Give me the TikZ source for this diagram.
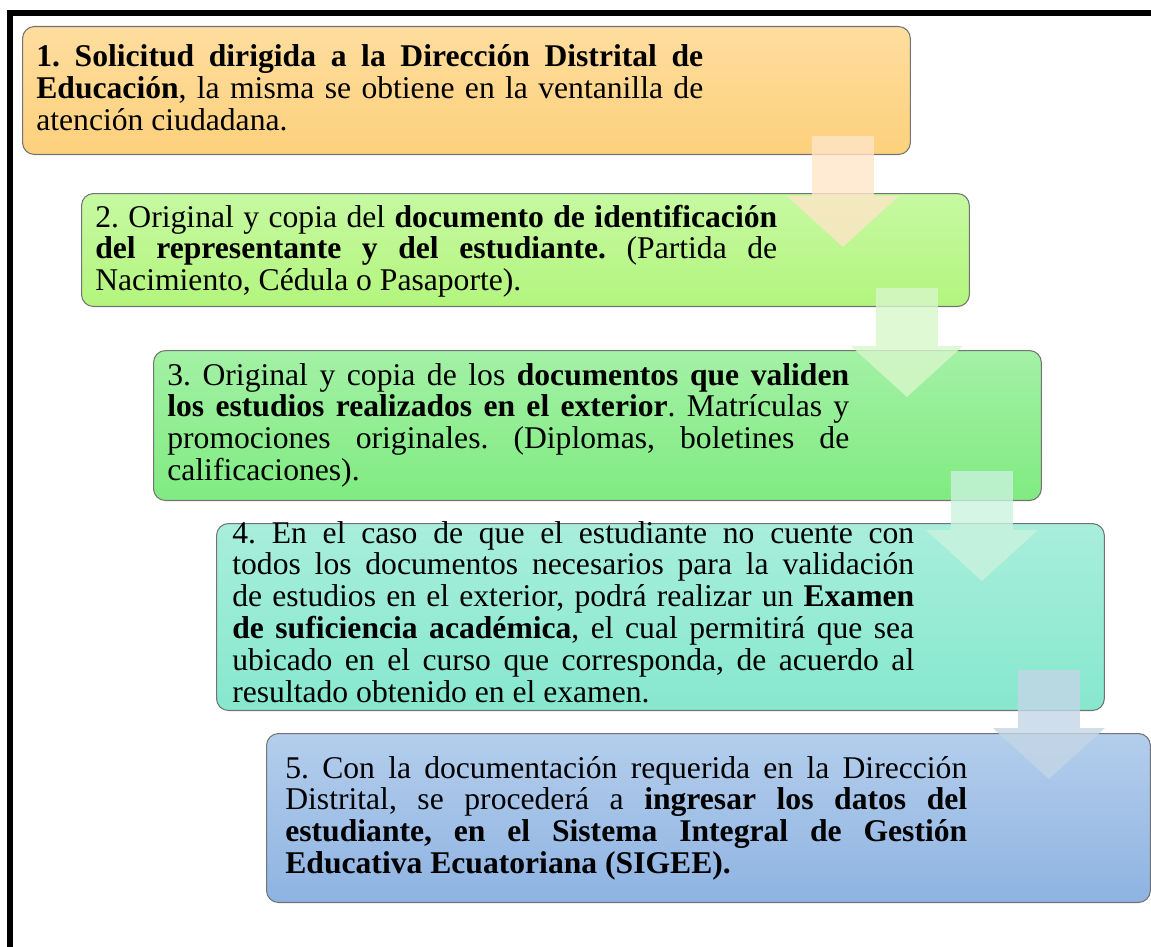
\documentclass[tikz,border=0pt]{standalone}
\usepackage{fontspec}
\setmainfont{Liberation Serif}
\usepackage{xcolor}
\usetikzlibrary{calc,positioning}
\definecolor{orgTop}{HTML}{FEDD9E}
\definecolor{orgBot}{HTML}{FDD17C}
\definecolor{limeTop}{HTML}{C6F9A2}
\definecolor{limeBot}{HTML}{B3F57D}
\definecolor{grnTop}{HTML}{A3F1A5}
\definecolor{grnBot}{HTML}{80EB81}
\definecolor{tealTop}{HTML}{A8EEDB}
\definecolor{tealBot}{HTML}{86E8CE}
\definecolor{bluTop}{HTML}{B4CEEC}
\definecolor{bluBot}{HTML}{8EB3E2}
\definecolor{arrA}{HTML}{FFE5C8}
\definecolor{arrB}{HTML}{D8F7CB}
\definecolor{arrC}{HTML}{CAF2DE}
\definecolor{arrD}{HTML}{C4D6E7}
\hyphenpenalty=10000
\exhyphenpenalty=10000
\tolerance=10000
\frenchspacing

\begin{document}
\begin{tikzpicture}[x=0.02cm, y=-0.02cm,
    stepbox/.style={draw=black!55, line width=0.6pt, rounded corners=0.24cm,
        minimum width=17.76cm, minimum height=#1, anchor=north west, inner sep=0pt},
    steptext/.style={anchor=base west, inner sep=0pt, text width=13.64cm,
        align=justify, font=\fontsize{18}{18.1}\selectfont},
    flow/.style={fill=#1, opacity=0.8}]
    \clip (0,0) rectangle (1151,946);
    % outer frame
    \draw[line width=3.1pt] (10,980) -- (10,13) -- (1180,13);

    % steps
    \node[stepbox=2.56cm, top color=orgTop, bottom color=orgBot] (b1) at (22,26) {};
    \node[stepbox=2.26cm, top color=limeTop, bottom color=limeBot] (b2) at (81,193) {};
    \node[stepbox=3.0cm, top color=grnTop, bottom color=grnBot] (b3) at (153,350) {};
    \node[stepbox=3.74cm, top color=tealTop, bottom color=tealBot] (b4) at (216,523) {};
    \node[stepbox=3.38cm, minimum width=17.68cm, top color=bluTop, bottom color=bluBot] (b5) at (266,733) {};

    % arrows between steps
    \foreach \from/\to/\dx/\dy/\dt/\col in {b1/b2/-68/-19/54/arrA, b2/b3/-63/-19/47/arrB,
        b3/b4/-60/-30/58/arrC, b4/b5/-56/-41/46/arrD}{
        \coordinate (sh) at ($(\from.south east)+(\dx,\dy)$);
        \coordinate (tp) at ($(sh |- \to.north)+(0,\dt)$);
        \fill[flow=\col] ($(sh)+(-31,0)$) -- ($(sh)+(31,0)$) -- ($(tp)+(31,-51)$)
            -- ($(tp)+(56,-51)$) -- (tp) -- ($(tp)+(-56,-51)$) -- ($(tp)+(-31,-51)$) -- cycle;
    }

    % texts
    \node[steptext, text width=13.34cm] (t1) at ($(b1.north west)+(14,41)$)
        {\textbf{1. Solicitud dirigida a la Dirección Distrital de\linebreak
        Educación}, la misma se obtiene en la ventanilla de\linebreak
        atención ciudadana.};
    \node[steptext] (t2) at ($(b2.north west)+(14,34)$)
        {2. Original y copia del \textbf{documento de identificación\linebreak
        del representante y del estudiante.} (Partida de\linebreak
        Nacimiento, Cédula o Pasaporte).};
    \node[steptext] (t3) at ($(b3.north west)+(14,35)$)
        {3. Original y copia de los \textbf{documentos que validen\linebreak
        los estudios realizados en el exterior}. Matrículas y\linebreak
        promociones originales. (Diplomas, boletines de\linebreak
        calificaciones).};
    \node[steptext] (t4) at ($(b4.north west)+(16,20)$)
        {4. En el caso de que el estudiante no cuente con\linebreak
        todos los documentos necesarios para la validación\linebreak
        de estudios en el exterior, podrá realizar un \textbf{Examen\linebreak
        de suficiencia académica}, el cual permitirá que sea\linebreak
        ubicado en el curso que corresponda, de acuerdo al\linebreak
        resultado obtenido en el examen.};
    \node[steptext] (t5) at ($(b5.north west)+(19,45)$)
        {5. Con la documentación requerida en la Dirección\linebreak
        Distrital, se procederá a \textbf{ingresar los datos del\linebreak
        estudiante, en el Sistema Integral de Gestión\linebreak
        Educativa Ecuatoriana (SIGEE).}};
\end{tikzpicture}
\end{document}
